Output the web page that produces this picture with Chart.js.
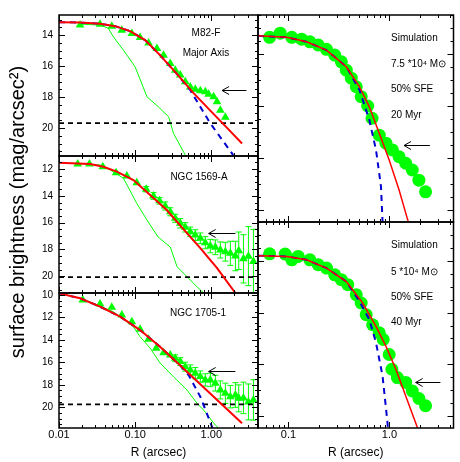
<!DOCTYPE html>
<html>
<head>
<meta charset="utf-8">
<title>Surface brightness profiles</title>
<script src="https://cdn.jsdelivr.net/npm/chart.js@4/dist/chart.umd.min.js"></script>
<style>
  body { margin: 0; background: #fff; }
  #fig { position: relative; width: 460px; height: 462px; }
  #fig canvas { position: absolute; left: 0; top: 0; }
</style>
</head>
<body>
<div id="fig"></div>
<script>
// ---------- M82-F, major axis ----------
const m82R = [0.0189, 0.0346, 0.0493, 0.0668, 0.0905, 0.116, 0.150, 0.193, 0.236, 0.289, 0.336, 0.391, 0.455, 0.529, 0.616, 0.717, 0.834, 0.921, 1.072, 1.188, 1.313, 1.528];
const m82Mu = [13.35, 13.29, 13.42, 13.68, 13.89, 14.15, 14.50, 14.86, 15.29, 15.83, 16.26, 16.58, 17.01, 17.34, 17.50, 17.59, 17.66, 17.81, 17.98, 18.30, 18.84, 19.30];
const m82FitR = [0.01, 0.0189, 0.0346, 0.0546, 0.0857, 0.1348, 0.212, 0.355, 0.585, 0.970, 1.528, 2.53];
const m82FitMu = [13.16, 13.19, 13.26, 13.42, 13.74, 14.32, 15.29, 16.52, 17.74, 18.87, 19.87, 20.99];
const m82CoreR = [0.01, 0.0189, 0.0346, 0.0546, 0.0857, 0.1348, 0.212, 0.355, 0.529, 0.70, 0.97, 1.37, 1.87, 2.1];
const m82CoreMu = [13.16, 13.19, 13.26, 13.42, 13.74, 14.32, 15.29, 16.52, 17.55, 18.55, 19.69, 20.72, 21.63, 22.1];
const m82PsfR = [0.0189, 0.0346, 0.0442, 0.0518, 0.0702, 0.1, 0.143, 0.202, 0.275, 0.319, 0.455, 0.6];
const m82PsfMu = [13.29, 13.35, 13.55, 14.11, 14.97, 16.05, 17.98, 18.63, 19.27, 20.34, 21.74, 23.0];
const m82Sky = 19.68;
const m82Arrow = [1.383, 17.55, 2.89];
const m82YTicks = [14, 16, 18, 20];

// ---------- NGC 1569-A ----------
const n1569R = [0.0176, 0.0251, 0.0376, 0.0562, 0.0778, 0.105, 0.1396, 0.174, 0.209, 0.248, 0.289, 0.336, 0.391, 0.455, 0.529, 0.616, 0.717, 0.834, 0.970, 1.129, 1.313, 1.528, 1.778, 2.07, 2.29, 2.64, 3.07, 3.57];
const n1569Mu = [11.63, 11.63, 11.83, 12.28, 12.52, 13.02, 13.51, 14.01, 14.37, 14.76, 15.19, 15.68, 16.05, 16.35, 16.68, 16.93, 17.17, 17.50, 17.75, 17.84, 18.04, 18.17, 18.29, 18.49, 18.10, 18.70, 18.50, 18.90];
const n1569Err = [0, 0, 0, 0, 0, 0, 0.2, 0.25, 0.25, 0.3, 0.3, 0.3, 0.35, 0.35, 0.35, 0.4, 0.4, 0.45, 0.5, 0.55, 0.6, 0.7, 0.9, 1.1, 1.4, 1.8, 2.2, 2.4];
const n1569FitR = [0.01, 0.0256, 0.0383, 0.0575, 0.0948, 0.1573, 0.26, 0.43, 0.717, 1.19, 2.07];
const n1569FitMu = [11.53, 11.63, 11.83, 12.2, 12.82, 13.94, 15.06, 16.48, 17.9, 19.39, 21.25];
const n1569PsfR = [0.0176, 0.0346, 0.0469, 0.0702, 0.105, 0.143, 0.2, 0.289, 0.355, 0.529, 0.717, 0.97];
const n1569PsfMu = [11.6, 11.7, 12.07, 12.69, 14.56, 15.81, 17.07, 17.82, 19.29, 20.28, 21.03, 21.6];
const n1569Sky = 20.06;
const n1569Arrow = [0.922, 16.75, 2.07];
const n1569YTicks = [12, 14, 16, 18, 20];

// ---------- NGC 1705-1 ----------
const n1705R = [0.0205, 0.0346, 0.0493, 0.0668, 0.0905, 0.116, 0.150, 0.189, 0.236, 0.289, 0.336, 0.391, 0.455, 0.529, 0.616, 0.717, 0.834, 0.970, 1.129, 1.313, 1.528, 1.778, 2.07, 2.29, 2.64, 3.07, 3.57];
const n1705Mu = [10.44, 10.8, 11.09, 11.78, 12.37, 13.05, 13.94, 14.75, 15.13, 15.34, 15.63, 15.93, 16.38, 16.67, 16.96, 17.26, 17.56, 17.56, 17.85, 18.45, 18.75, 19.05, 18.9, 19.2, 19.16, 19.52, 19.34];
const n1705Err = [0, 0, 0, 0, 0, 0, 0, 0, 0, 0, 0.3, 0.35, 0.4, 0.45, 0.5, 0.5, 0.55, 0.6, 0.7, 0.8, 0.9, 1.0, 1.1, 1.2, 1.4, 1.6, 1.8];
const n1705FitR = [0.01, 0.0189, 0.0346, 0.0635, 0.116, 0.212, 0.391, 0.717, 1.313, 2.53];
const n1705FitMu = [9.85, 10.29, 11.04, 11.93, 13.12, 14.6, 16.28, 17.94, 19.62, 21.42];
const n1705CoreR = [0.01, 0.0189, 0.0346, 0.0635, 0.116, 0.212, 0.391, 0.503, 0.717, 1.021, 1.1];
const n1705CoreMu = [9.85, 10.29, 11.04, 11.93, 13.12, 14.6, 16.28, 17.12, 19.06, 21.73, 22.3];
const n1705PsfR = [0.0205, 0.0256, 0.0518, 0.0948, 0.116, 0.157, 0.212, 0.319, 0.479, 0.65, 0.79, 1.129, 1.313];
const n1705PsfMu = [10.4, 10.62, 11.49, 12.82, 13.71, 14.72, 16.05, 17.28, 18.46, 19.64, 20.24, 21.58, 22.0];
const n1705Sky = 19.74;
const n1705Arrow = [0.922, 16.74, 2.07];
const n1705YTicks = [10, 12, 14, 16, 18, 20];

// ---------- simulation, 7.5e4 Msun, 20 Myr ----------
const simAR = [0.0651, 0.0829, 0.108, 0.135, 0.163, 0.197, 0.238, 0.287, 0.334, 0.374, 0.419, 0.469, 0.525, 0.609, 0.672, 0.792, 0.922, 1.07, 1.245, 1.448, 1.68, 1.955, 2.275];
const simAMu = [13.36, 13.2, 13.36, 13.43, 13.53, 13.65, 13.82, 14.04, 14.3, 14.62, 14.93, 15.26, 15.64, 16.0, 16.47, 17.12, 17.43, 17.69, 17.95, 18.2, 18.46, 18.85, 19.3];
const simAFitR = [0.05, 0.0964, 0.151, 0.238, 0.374, 0.505, 0.632, 0.792, 0.993, 1.245, 1.5, 1.6];
const simAFitMu = [13.3, 13.36, 13.53, 13.85, 14.49, 15.26, 16.03, 17.05, 18.08, 19.23, 20.32, 20.7];
const simACoreR = [0.05, 0.0964, 0.151, 0.238, 0.374, 0.505, 0.632, 0.736, 0.824, 0.854, 0.87];
const simACoreMu = [13.3, 13.36, 13.53, 13.85, 14.49, 15.38, 16.54, 17.69, 19.1, 20.46, 21.0];
const simAArrow = [1.393, 17.5, 2.51];

// ---------- simulation, 5e4 Msun, 40 Myr ----------
const simBR = [0.0651, 0.0928, 0.108, 0.125, 0.163, 0.197, 0.238, 0.287, 0.334, 0.387, 0.469, 0.525, 0.588, 0.681, 0.792, 0.867, 0.993, 1.057, 1.197, 1.448, 1.68, 1.955, 2.275];
const simBMu = [13.73, 13.74, 13.96, 13.83, 13.96, 14.15, 14.28, 14.54, 14.73, 14.92, 15.31, 15.63, 16.08, 16.47, 16.78, 17.04, 17.62, 18.19, 18.51, 18.7, 19.03, 19.32, 19.6];
const simBFitR = [0.05, 0.0964, 0.151, 0.238, 0.374, 0.543, 0.736, 0.922, 1.157, 1.448, 1.884, 2.0];
const simBFitMu = [13.8, 13.83, 13.96, 14.28, 14.8, 15.63, 16.53, 17.3, 18.19, 19.22, 20.43, 20.8];
const simBCoreR = [0.05, 0.0964, 0.151, 0.238, 0.374, 0.505, 0.632, 0.736, 0.854, 0.955, 0.98];
const simBCoreMu = [13.8, 13.83, 13.96, 14.28, 14.8, 15.57, 16.27, 17.17, 18.45, 20.24, 20.8];
const simBArrow = [1.815, 18.69, 3.19];

// x tick labels
const leftXTicks = [0.01, 0.1, 1];
const leftXText = ['0.01', '0.10', '1.00'];
const rightXTicks = [0.1, 1];
const rightXText = ['0.1', '1.0'];

const GREEN = '#00ff00';
const FONT = '"Liberation Sans", Arial, Helvetica, sans-serif';

function pts(xs, ys) {
  return xs.map((x, i) => ({ x: x, y: ys[i] }));
}

function labelFor(vals, texts) {
  return v => {
    const i = vals.findIndex(u => Math.abs(u - v) < 1e-9);
    return i >= 0 ? texts[i] : '';
  };
}

function overlay(p) {
  return {
    id: 'overlay',
    beforeDatasetsDraw(chart) {
      if (!p.err) return;
      const { ctx, chartArea: a, scales: { x, y } } = chart;
      ctx.save();
      ctx.beginPath();
      ctx.rect(a.left, a.top, a.right - a.left, a.bottom - a.top);
      ctx.clip();
      ctx.strokeStyle = GREEN;
      ctx.lineWidth = 1;
      p.data[0].forEach((r, i) => {
        const e = p.err[i];
        if (!e) return;
        const px = x.getPixelForValue(r);
        const y1 = y.getPixelForValue(p.data[1][i] - e);
        const y2 = y.getPixelForValue(p.data[1][i] + e);
        ctx.beginPath();
        ctx.moveTo(px, y1); ctx.lineTo(px, y2);
        ctx.moveTo(px - 3, y1); ctx.lineTo(px + 3, y1);
        ctx.moveTo(px - 3, y2); ctx.lineTo(px + 3, y2);
        ctx.stroke();
      });
      ctx.restore();
    },
    afterDatasetsDraw(chart) {
      const { ctx, chartArea: a, scales: { x, y } } = chart;
      ctx.save();
      ctx.strokeStyle = '#000';
      ctx.lineWidth = 1;
      x.ticks.forEach(t => {
        const lg = Math.log10(t.value);
        const len = Math.abs(lg - Math.round(lg)) < 1e-6 ? 6 : 3;
        const px = Math.round(x.getPixelForValue(t.value)) + 0.5;
        ctx.beginPath();
        ctx.moveTo(px, a.bottom); ctx.lineTo(px, a.bottom - len);
        ctx.moveTo(px, a.top); ctx.lineTo(px, a.top + len);
        ctx.stroke();
      });
      y.ticks.forEach(t => {
        const len = Math.abs(t.value / 2 - Math.round(t.value / 2)) < 1e-6 ? 6 : 3;
        const py = Math.round(y.getPixelForValue(t.value)) + 0.5;
        ctx.beginPath();
        ctx.moveTo(a.left, py); ctx.lineTo(a.left + len, py);
        ctx.moveTo(a.right, py); ctx.lineTo(a.right - len, py);
        ctx.stroke();
      });
      ctx.lineWidth = 1.5;
      ctx.strokeRect(a.left, a.top, a.right - a.left, a.bottom - a.top);
      ctx.restore();
    },
    afterDraw(chart) {
      const { ctx, scales: { x, y } } = chart;
      ctx.save();
      if (p.arrow) {
        const tx = x.getPixelForValue(p.arrow[0]);
        const ty = Math.round(y.getPixelForValue(p.arrow[1])) + 0.5;
        const ex = x.getPixelForValue(p.arrow[2]);
        ctx.strokeStyle = '#000';
        ctx.lineWidth = 1;
        ctx.beginPath();
        ctx.moveTo(ex, ty); ctx.lineTo(tx, ty);
        ctx.moveTo(tx + 7, ty - 4); ctx.lineTo(tx, ty); ctx.lineTo(tx + 7, ty + 4);
        ctx.stroke();
      }
      ctx.fillStyle = '#000';
      ctx.textBaseline = 'middle';
      (p.notes || []).forEach(n => {
        ctx.save();
        ctx.font = (n.size || 10) + 'px ' + FONT;
        ctx.textAlign = n.align || 'left';
        ctx.translate(n.x, n.y);
        if (n.rot) ctx.rotate(-Math.PI / 2);
        ctx.fillText(n.t, 0, 0);
        ctx.restore();
      });
      ctx.restore();
    }
  };
}

function makePanel(p) {
  const cv = document.createElement('canvas');
  cv.width = 460;
  cv.height = 462;
  document.getElementById('fig').appendChild(cv);

  const datasets = [];
  datasets.push({ data: pts(p.fit[0], p.fit[1]), borderColor: '#ff0000', borderWidth: p.fitWidth, pointRadius: 0, fill: false, order: 0 });
  if (p.core) {
    datasets.push({ data: pts(p.core[0], p.core[1]), borderColor: '#0000d0', borderWidth: 2, borderDash: [6, 5], pointRadius: 0, fill: false, order: 1 });
  }
  if (p.sky) {
    datasets.push({ data: pts(p.xr, [p.sky, p.sky]), borderColor: '#000', borderWidth: 1.8, borderDash: [5, 4], pointRadius: 0, fill: false, order: 2 });
  }
  datasets.push({
    data: pts(p.data[0], p.data[1]), showLine: false, pointStyle: p.marker, pointRadius: p.size,
    backgroundColor: GREEN, borderColor: GREEN, borderWidth: 0, order: 3
  });
  if (p.psf) {
    datasets.push({ data: pts(p.psf[0], p.psf[1]), borderColor: GREEN, borderWidth: 1, pointRadius: 0, fill: false, order: 4 });
  }

  // the y scale of labelled panels takes the whole left margin, so its labels are not clipped
  const yWidth = p.yTicks ? p.box[0] : 0;

  new Chart(cv, {
    type: 'line',
    data: { datasets: datasets },
    options: {
      responsive: false,
      animation: false,
      devicePixelRatio: 1,
      events: [],
      layout: {
        padding: { left: p.box[0] - yWidth, top: p.box[1], right: 460 - p.box[2], bottom: p.xText ? 0 : 462 - p.box[3] }
      },
      plugins: { legend: { display: false }, tooltip: { enabled: false } },
      scales: {
        x: {
          type: 'logarithmic',
          min: p.xr[0],
          max: p.xr[1],
          grid: { display: false, drawTicks: false },
          border: { display: false },
          afterBuildTicks: s => {
            const out = [];
            for (let e = -2; e <= 1; e++) {
              for (let k = 1; k <= 9; k++) {
                const v = k * Math.pow(10, e);
                if (v >= p.xr[0] - 1e-12 && v <= p.xr[1]) out.push({ value: v });
              }
            }
            s.ticks = out;
          },
          afterFit: s => { s.height = p.xText ? 34 : 0; },
          ticks: {
            display: !!p.xText,
            autoSkip: false,
            maxRotation: 0,
            padding: 0,
            color: '#000',
            font: { family: FONT, size: 11 },
            callback: p.xText ? labelFor(p.xTicks, p.xText) : () => ''
          },
          title: {
            display: !!p.xText,
            text: 'R (arcsec)',
            color: '#000',
            font: { family: FONT, size: 12 },
            padding: { top: 0, bottom: 2 }
          }
        },
        y: {
          type: 'linear',
          reverse: true,
          min: p.yr[0],
          max: p.yr[1],
          grid: { display: false, drawTicks: false },
          border: { display: false },
          afterBuildTicks: s => {
            const out = [];
            for (let v = Math.ceil(p.yr[0] * 2) / 2; v <= p.yr[1] + 1e-9; v += 0.5) out.push({ value: v });
            s.ticks = out;
          },
          afterFit: s => { s.width = yWidth; },
          ticks: {
            display: !!p.yTicks,
            autoSkip: false,
            padding: 6,
            color: '#000',
            font: { family: FONT, size: 10 },
            callback: v => (p.yTicks && p.yTicks.some(u => Math.abs(u - v) < 1e-9)) ? String(v) : ''
          }
        }
      }
    },
    plugins: [overlay(p)]
  });
}

const LEFT_XR = [0.01, 4.1];
const RIGHT_XR = [0.05, 4.3];
const SIM_YR = [12.5, 20.46];

makePanel({
  box: [59, 15, 258, 156], xr: LEFT_XR, yr: [12.7, 21.8], marker: 'triangle', size: 5, fitWidth: 2,
  data: [m82R, m82Mu], fit: [m82FitR, m82FitMu], core: [m82CoreR, m82CoreMu], psf: [m82PsfR, m82PsfMu],
  sky: m82Sky, arrow: m82Arrow, yTicks: m82YTicks,
  notes: [{ t: 'M82-F', x: 206, y: 33, align: 'center' }, { t: 'Major Axis', x: 206, y: 53, align: 'center' }]
});
makePanel({
  box: [59, 156, 258, 293], xr: LEFT_XR, yr: [11.03, 21.25], marker: 'triangle', size: 5, fitWidth: 2,
  data: [n1569R, n1569Mu], err: n1569Err, fit: [n1569FitR, n1569FitMu], psf: [n1569PsfR, n1569PsfMu],
  sky: n1569Sky, arrow: n1569Arrow, yTicks: n1569YTicks,
  notes: [
    { t: 'NGC 1569-A', x: 199, y: 177, align: 'center' },
    { t: 'surface brightness (mag/arcsec\u00b2)', x: 18, y: 212, align: 'center', rot: true, size: 20 }
  ]
});
makePanel({
  box: [59, 293, 258, 428], xr: LEFT_XR, yr: [9.82, 21.84], marker: 'triangle', size: 5, fitWidth: 2,
  data: [n1705R, n1705Mu], err: n1705Err, fit: [n1705FitR, n1705FitMu], core: [n1705CoreR, n1705CoreMu],
  psf: [n1705PsfR, n1705PsfMu], sky: n1705Sky, arrow: n1705Arrow, yTicks: n1705YTicks,
  xTicks: leftXTicks, xText: leftXText,
  notes: [{ t: 'NGC 1705-1', x: 198, y: 313, align: 'center' }]
});
makePanel({
  box: [258, 15, 455, 222], xr: RIGHT_XR, yr: SIM_YR, marker: 'circle', size: 6.5, fitWidth: 1.5,
  data: [simAR, simAMu], fit: [simAFitR, simAFitMu], core: [simACoreR, simACoreMu], arrow: simAArrow,
  notes: [
    { t: 'Simulation', x: 391, y: 38 },
    { t: '7.5 *10\u2074 M\u2299', x: 391, y: 64 },
    { t: '50% SFE', x: 391, y: 89 },
    { t: '20 Myr', x: 391, y: 115 }
  ]
});
makePanel({
  box: [258, 222, 455, 428], xr: RIGHT_XR, yr: SIM_YR, marker: 'circle', size: 6.5, fitWidth: 1.5,
  data: [simBR, simBMu], fit: [simBFitR, simBFitMu], core: [simBCoreR, simBCoreMu], arrow: simBArrow,
  xTicks: rightXTicks, xText: rightXText,
  notes: [
    { t: 'Simulation', x: 391, y: 245 },
    { t: '5 *10\u2074 M\u2299', x: 391, y: 272 },
    { t: '50% SFE', x: 391, y: 297 },
    { t: '40 Myr', x: 391, y: 322 }
  ]
});
</script>
</body>
</html>
